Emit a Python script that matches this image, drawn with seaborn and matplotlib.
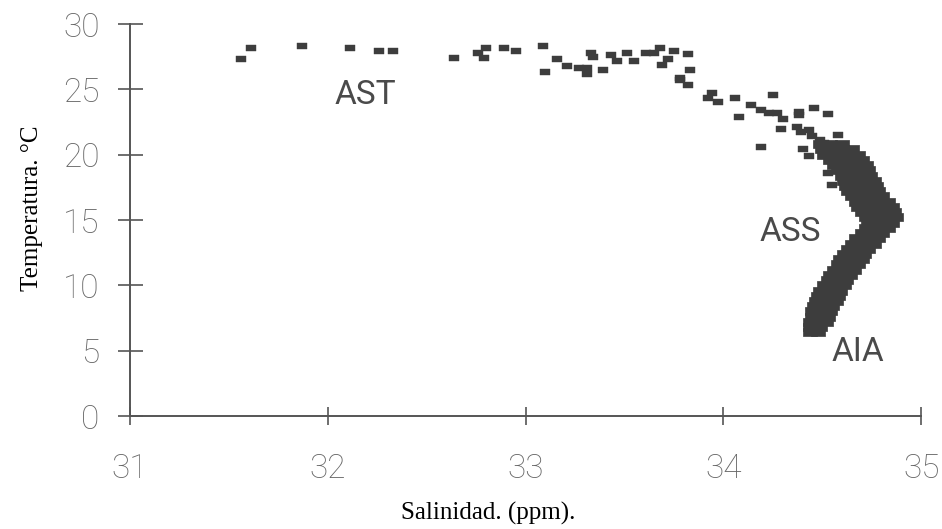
import matplotlib
matplotlib.use("Agg")
import matplotlib.pyplot as plt
from matplotlib.path import Path
import seaborn as sns
import pandas as pd

# Scattered T-S observations (upper layers)
sal_scatter = [31.56, 31.61, 31.87, 32.11, 32.26, 32.33, 32.64, 32.76, 32.80, 32.79,
               32.89, 32.95, 33.09, 33.10, 33.16, 33.21, 33.27, 33.31, 33.31, 33.33,
               33.34, 33.39, 33.43, 33.46, 33.51, 33.55, 33.61, 33.65, 33.68, 33.72,
               33.75, 33.82, 33.69, 33.83, 33.78, 33.82, 33.78, 33.94, 33.92, 33.97,
               34.06, 34.25, 34.08, 34.14, 34.19, 34.23, 34.27, 34.30, 34.29, 34.38,
               34.38, 34.46, 34.53, 34.19, 34.37, 34.39, 34.43, 34.40, 34.43, 34.49,
               34.58, 34.53, 34.55, 34.45, 34.51]
temp_scatter = [27.3, 28.2, 28.3, 28.2, 27.9, 27.9, 27.4, 27.8, 28.2, 27.4,
                28.2, 27.9, 28.3, 26.3, 27.3, 26.8, 26.6, 26.6, 26.2, 27.8,
                27.5, 26.5, 27.6, 27.2, 27.8, 27.2, 27.8, 27.8, 28.2, 27.3,
                27.9, 27.7, 26.9, 26.5, 25.7, 25.3, 25.9, 24.7, 24.3, 24.0,
                24.3, 24.6, 22.9, 23.8, 23.4, 23.2, 23.2, 22.7, 22.0, 23.3,
                23.0, 23.6, 23.1, 20.6, 22.1, 21.7, 21.9, 20.4, 19.9, 21.1,
                21.5, 18.6, 17.7, 21.4, 20.9]

# Dense T-S observations (subsurface to intermediate water)
sal_dense = [34.44, 34.48,
             34.44, 34.49,
             34.44, 34.48, 34.52,
             34.45, 34.49, 34.53,
             34.45, 34.50, 34.54,
             34.46, 34.51, 34.55,
             34.47, 34.52, 34.57,
             34.48, 34.53, 34.58,
             34.49, 34.54, 34.59,
             34.51, 34.56, 34.61,
             34.53, 34.58, 34.62,
             34.54, 34.59, 34.64,
             34.56, 34.61, 34.66,
             34.58, 34.63, 34.68,
             34.59, 34.64, 34.70,
             34.61, 34.66, 34.71,
             34.63, 34.68, 34.73,
             34.65, 34.70, 34.76,
             34.67, 34.72, 34.78,
             34.70, 34.75, 34.80,
             34.72, 34.77, 34.83,
             34.73, 34.79, 34.85,
             34.72, 34.78, 34.84, 34.87,
             34.70, 34.76, 34.82, 34.86,
             34.68, 34.74, 34.80, 34.85,
             34.67, 34.72, 34.78, 34.83,
             34.65, 34.70, 34.76, 34.80,
             34.63, 34.68, 34.74, 34.78,
             34.62, 34.67, 34.72, 34.77,
             34.61, 34.66, 34.71, 34.76,
             34.60, 34.65, 34.70, 34.74,
             34.58, 34.63, 34.68, 34.73,
             34.56, 34.61, 34.66, 34.72,
             34.54, 34.59, 34.64, 34.70,
             34.51, 34.56, 34.62, 34.68,
             34.50, 34.55, 34.60, 34.65,
             34.49, 34.54, 34.60]
temp_dense = [6.4, 6.4,
              6.8, 6.8,
              7.2, 7.2, 7.2,
              7.6, 7.6, 7.6,
              8.0, 8.0, 8.0,
              8.4, 8.4, 8.4,
              8.8, 8.8, 8.8,
              9.2, 9.2, 9.2,
              9.6, 9.6, 9.6,
              10.0, 10.0, 10.0,
              10.4, 10.4, 10.4,
              10.8, 10.8, 10.8,
              11.2, 11.2, 11.2,
              11.6, 11.6, 11.6,
              12.0, 12.0, 12.0,
              12.4, 12.4, 12.4,
              12.8, 12.8, 12.8,
              13.2, 13.2, 13.2,
              13.6, 13.6, 13.6,
              14.0, 14.0, 14.0,
              14.4, 14.4, 14.4,
              14.8, 14.8, 14.8,
              15.2, 15.2, 15.2, 15.2,
              15.6, 15.6, 15.6, 15.6,
              16.0, 16.0, 16.0, 16.0,
              16.4, 16.4, 16.4, 16.4,
              16.8, 16.8, 16.8, 16.8,
              17.2, 17.2, 17.2, 17.2,
              17.6, 17.6, 17.6, 17.6,
              18.0, 18.0, 18.0, 18.0,
              18.4, 18.4, 18.4, 18.4,
              18.8, 18.8, 18.8, 18.8,
              19.2, 19.2, 19.2, 19.2,
              19.6, 19.6, 19.6, 19.6,
              20.0, 20.0, 20.0, 20.0,
              20.4, 20.4, 20.4, 20.4,
              20.8, 20.8, 20.8]

x_ticks = [31, 32, 33, 34, 35]
y_ticks = [0, 5, 10, 15, 20, 25, 30]

# Water mass labels
mass_names = ["AST", "ASS", "AIA"]
mass_sal = [32.19, 34.34, 34.68]
mass_temp = [24.6, 14.1, 4.9]

scatter_df = pd.DataFrame({"sal": sal_scatter, "temp": temp_scatter})
dense_df = pd.DataFrame({"sal": sal_dense, "temp": temp_dense})

sns.set_style("white")
plt.rcParams["font.family"] = ["Roboto", "DejaVu Sans"]

fig = plt.figure(figsize=(9.42, 5.29), dpi=100)
ax = fig.add_axes([0.138, 0.2136, 0.840, 0.741])

# 2:1 flat rectangle marker
rect = Path([(-1, -0.5), (1, -0.5), (1, 0.5), (-1, 0.5), (-1, -0.5)],
            [Path.MOVETO, Path.LINETO, Path.LINETO, Path.LINETO, Path.CLOSEPOLY])

ink = "#3d3d3d"
sns.scatterplot(data=scatter_df, x="sal", y="temp", ax=ax, marker=rect, s=60,
                color=ink, edgecolor=ink, linewidth=0.3)
sns.scatterplot(data=dense_df, x="sal", y="temp", ax=ax, marker=rect, s=110,
                color=ink, edgecolor=ink, linewidth=0.5)

for name, xs, yt in zip(mass_names, mass_sal, mass_temp):
    ax.text(xs, yt, name, ha="center", va="center", fontsize=24,
            color="#4a4a4a", family=["Roboto", "DejaVu Sans"])

ax.set_xlim(31, 35)
ax.set_ylim(0, 30)
ax.set_xticks(x_ticks)
ax.set_yticks(y_ticks)

for side in ("top", "right"):
    ax.spines[side].set_visible(False)
for side in ("left", "bottom"):
    ax.spines[side].set_color("#555555")
    ax.spines[side].set_linewidth(1.4)

ax.tick_params(axis="y", left=True, direction="inout", length=18, width=1.2,
               color="#555555", labelsize=24, labelcolor="#666666", pad=13)
ax.tick_params(axis="x", bottom=True, direction="inout", length=13, width=1.2,
               color="#555555", labelsize=24, labelcolor="#666666", pad=20)
for lab in ax.get_xticklabels() + ax.get_yticklabels():
    lab.set_fontweight("light")

ax.set_xlabel("Salinidad. (ppm).", family=["Liberation Serif", "DejaVu Serif"],
              fontsize=18, color="black")
ax.set_ylabel("Temperatura. °C", family=["Liberation Serif", "DejaVu Serif"],
              fontsize=18, color="black")
ax.xaxis.set_label_coords(0.453, -0.219)
ax.yaxis.set_label_coords(-0.110, 0.531)

fig.savefig("out.png", dpi=100, facecolor="white")
